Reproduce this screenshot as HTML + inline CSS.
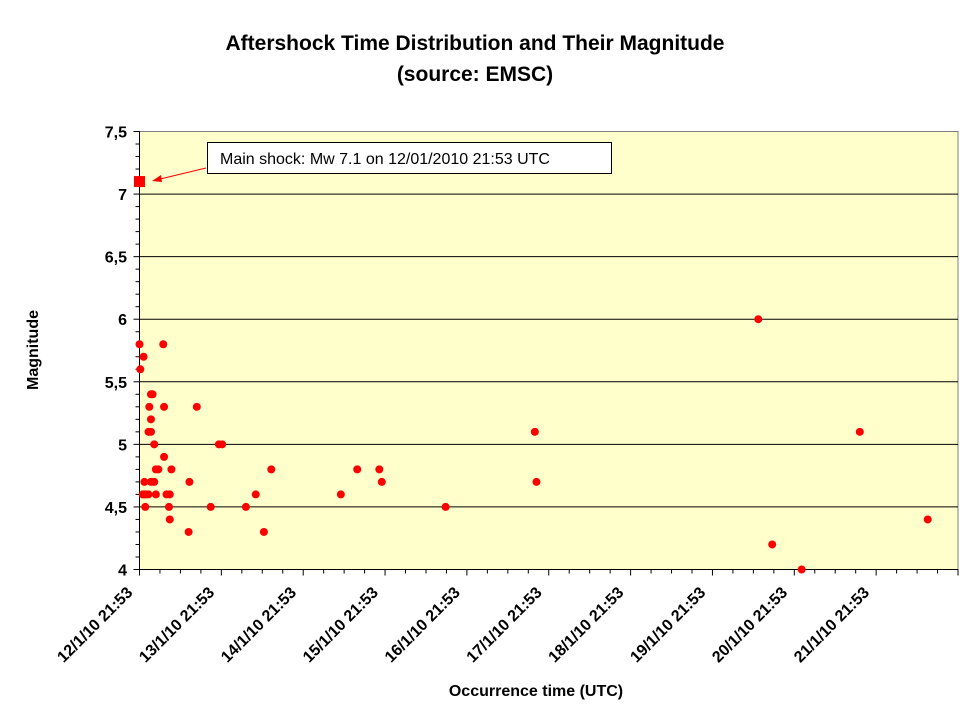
<!DOCTYPE html>
<html><head><meta charset="utf-8"><style>body{margin:0;background:#fff}svg{display:block;font-family:"Liberation Sans",Arial,sans-serif}</style></head>
<body>
<svg id="chart" width="960" height="720" viewBox="0 0 960 720">
<text x="475" y="50" text-anchor="middle" font-size="21" font-weight="bold">Aftershock Time Distribution and Their Magnitude</text>
<text x="475" y="81" text-anchor="middle" font-size="21" font-weight="bold">(source: EMSC)</text>
<rect x="139.5" y="131.5" width="818.5" height="438" fill="#ffffcc" stroke="#808080"/>
<g id="grid"></g><g id="axes"></g><g id="points"></g>
<text transform="translate(38,350) rotate(-90)" text-anchor="middle" font-size="16" font-weight="bold">Magnitude</text>
<text x="536" y="696" text-anchor="middle" font-size="16" font-weight="bold">Occurrence time (UTC)</text>
<g>
<rect x="207.5" y="142.5" width="404" height="31" fill="#fff" stroke="#000"/>
<text x="220" y="164" font-size="16">Main shock: Mw 7.1 on 12/01/2010 21:53 UTC</text>
<line x1="206" y1="168" x2="156" y2="180" stroke="red" stroke-width="1"/>
<polygon points="152,181 161,175 162,182" fill="red"/>
</g>
</svg>
<script>
const days=[0.0,0.29,0.05,0.01,0.16,0.14,0.12,0.30,0.70,0.14,0.11,0.14,0.18,0.97,1.01,0.30,0.20,0.23,0.39,1.61,0.06,0.14,0.18,0.61,0.04,0.06,0.08,0.11,0.20,0.33,0.37,1.42,0.07,0.36,0.87,1.30,0.37,0.60,1.52,2.46,2.66,2.93,2.96,3.74,4.83,4.85,7.56,7.73,8.09,8.80,9.63];
const mags=[5.8,5.8,5.7,5.6,5.4,5.4,5.3,5.3,5.3,5.2,5.1,5.1,5.0,5.0,5.0,4.9,4.8,4.8,4.8,4.8,4.7,4.7,4.7,4.7,4.6,4.6,4.6,4.6,4.6,4.6,4.6,4.6,4.5,4.5,4.5,4.5,4.4,4.3,4.3,4.6,4.8,4.8,4.7,4.5,5.1,4.7,6.0,4.2,4.0,5.1,4.4];
const mainDay=[0.0], mainMag=[7.1];
const yTicks=[4,4.5,5,5.5,6,6.5,7,7.5];
const yTickLabels=["4","4,5","5","5,5","6","6,5","7","7,5"];
const xTickLabels=["12/1/10 21:53","13/1/10 21:53","14/1/10 21:53","15/1/10 21:53","16/1/10 21:53","17/1/10 21:53","18/1/10 21:53","19/1/10 21:53","20/1/10 21:53","21/1/10 21:53"];
const NS='http://www.w3.org/2000/svg';
const x0=139.5,x1=958,y0=569.5,y1=131.5;
const X=d=>x0+d/10*(x1-x0), Y=m=>y0-(m-4)/3.5*(y0-y1);
function mk(t,a,p){const e=document.createElementNS(NS,t);for(const k in a)e.setAttribute(k,a[k]);p.appendChild(e);return e;}
const grid=document.getElementById('grid'),axes=document.getElementById('axes'),pts=document.getElementById('points');
yTicks.forEach((v,i)=>{
 if(v>4&&v<7.5){const l=mk('line',{x1:x0,x2:x1,y1:Y(v),y2:Y(v),stroke:'#000'},grid);}
 const t=mk('text',{x:127,y:Y(v)+6,'text-anchor':'end','font-size':16,'font-weight':'bold'},axes);t.textContent=yTickLabels[i];
 
});
for(let m=0;m<=35;m++){const y=Y(4+m/10);mk('line',{x1:x0-(m%5==0?6:4),x2:x0,y1:y,y2:y,stroke:'#000'},axes);}
mk('line',{x1:x0,x2:x0,y1:y1,y2:y0,stroke:'#000'},axes);
mk('line',{x1:x0,x2:x1,y1:y0,y2:y0,stroke:'#000'},axes);
for(let q=0;q<=40;q++){const x=X(q/4);mk('line',{x1:x,x2:x,y1:y0,y2:y0+(q%4==0?6:4),stroke:'#000'},axes);}
xTickLabels.forEach((s,i)=>{const x=X(i);const t=mk('text',{transform:`translate(${x-6},${y0+24}) rotate(-45)`,'text-anchor':'end','font-size':16,'font-weight':'bold'},axes);t.textContent=s;
 });
days.forEach((d,i)=>{const c=mk('circle',{cx:X(d),cy:Y(mags[i]),r:4,fill:'red'},pts);
 });
mainDay.forEach((d,i)=>{const r=mk('rect',{x:X(d)-5.5,y:Y(mainMag[i])-5.5,width:11,height:11,fill:'red'},pts);
 });
</script>
</body></html>
